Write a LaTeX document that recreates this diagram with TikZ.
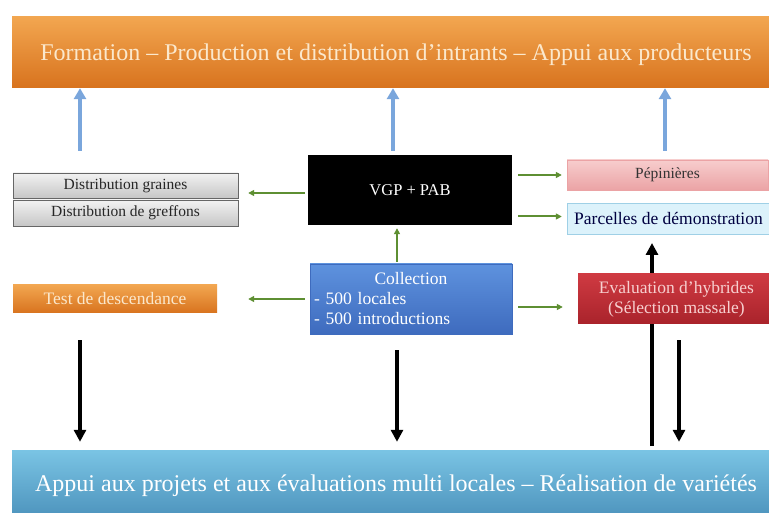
\documentclass[tikz,border=0pt]{standalone}
\usepackage{fontspec}
\setmainfont{Liberation Serif}
\usetikzlibrary{arrows.meta,calc}

\definecolor{orangetop}{HTML}{F2A650}
\definecolor{orangebot}{HTML}{D8731E}
\definecolor{cream}{HTML}{FBE8CC}
\definecolor{arrowblue}{HTML}{7AA6DC}
\definecolor{arrowgreen}{HTML}{5E8F32}
\definecolor{graytop}{HTML}{F2F2F2}
\definecolor{graybot}{HTML}{C6C6C6}
\definecolor{pinktop}{HTML}{F7CDCD}
\definecolor{pinkbot}{HTML}{EBA3A5}
\definecolor{paleblue}{HTML}{DCF2FB}
\definecolor{paleedge}{HTML}{9FD0E6}
\definecolor{colltop}{HTML}{5E92DE}
\definecolor{collbot}{HTML}{3E6BBE}
\definecolor{redtop}{HTML}{CF3A42}
\definecolor{redbot}{HTML}{A9232B}
\definecolor{pinktext}{HTML}{F7CFCF}
\definecolor{skytop}{HTML}{7AC4E4}
\definecolor{skybot}{HTML}{4A90BA}

\begin{document}
\begin{tikzpicture}[x=1pt,y=-1pt,
    banner/.style={minimum width=768pt, minimum height=71pt, inner sep=0pt,
        font=\fontsize{24}{27}\selectfont},
    box/.style={inner sep=0pt, align=center, font=\fontsize{17.5}{20}\selectfont},
    graybox/.style={box, draw=gray!80!black, top color=graytop, bottom color=graybot,
        minimum width=225pt, text=black!85, font=\fontsize{15.5}{17}\selectfont},
    uparrow/.style={draw=arrowblue, line width=4pt, -{Triangle[width=12pt,length=11pt]}},
    greenarrow/.style={draw=arrowgreen, line width=2pt, -{Triangle[width=6pt,length=6pt]}},
    blackarrow/.style={draw=black, line width=3.5pt, -{Triangle[width=12pt,length=12pt]}}]

    \useasboundingbox[fill=white] (0,0) rectangle (769,513);

    % Free ends of the long arrows
    \coordinate (upfoot) at (652,446);
    \coordinate (dnleft) at (80,340);
    \coordinate (dnmid) at (397,350);
    \coordinate (dnright) at (679,340);
    \coordinate (blueleft) at (80,151);
    \coordinate (bluemid) at (393,151);
    \coordinate (blueright) at (665,151);

    % Top and bottom banners
    \node[banner, top color=orangetop, bottom color=orangebot, text=cream, text depth=-3pt]
        (top) at (396,52.5) {Formation -- Production et distribution d'intrants -- Appui aux producteurs};
    \node[banner, top color=skytop, bottom color=skybot, text=white, minimum height=72pt]
        (bottom) at (396,486) {Appui aux projets et aux évaluations multi locales -- Réalisation de variétés};

    % Left column
    \node[graybox, minimum height=25pt] (graines) at (125.5,185.5) {Distribution graines};
    \node[graybox, minimum height=26pt] (greffons) at (125.5,213) {Distribution de greffons};
    \node[box, top color=orangetop, bottom color=orangebot, text=cream,
        minimum width=204pt, minimum height=28pt] (test) at (115,299) {Test de descendance};

    % Middle column
    \node[box, fill=black, text=white, minimum width=204pt, minimum height=70pt,
        font=\fontsize{16.5}{20}\selectfont] (vgp) at (410,190) {VGP + PAB};
    \node[box, top color=colltop, bottom color=collbot, text=white, draw=collbot,
        minimum width=202pt, minimum height=70pt, text width=194pt, align=left]
        (coll) at (411,299) {\makebox[194pt][c]{Collection}\\- 500 locales\\- 500 introductions};

    % Up arrow behind the evaluation box
    \draw[blackarrow] (upfoot) -- (652,243);

    % Right column
    \node[box, top color=pinktop, bottom color=pinkbot, draw=pinkbot, text=black!80,
        minimum width=201pt, minimum height=30pt, font=\fontsize{15.5}{18}\selectfont]
        (pep) at (667.5,175) {Pépinières};
    \node[box, fill=paleblue, draw=paleedge, minimum width=206pt, minimum height=31pt]
        (parc) at (670,218.5) {};
    \node[inner sep=0pt, anchor=west, text=blue!25!black, font=\fontsize{17.5}{20}\selectfont]
        (parctext) at (574,218.5) {Parcelles de démonstration};
    \node[box, top color=redtop, bottom color=redbot, text=pinktext,
        minimum width=197pt, minimum height=50pt] (eval) at (676.5,299)
        {Evaluation d'hybrides\\(Sélection massale)};

    % Blue arrows up to the top banner
    \foreach \b in {blueleft,bluemid,blueright}
        \draw[uparrow] (\b) -- (\b |- top.south);

    % Green arrows around VGP + PAB and the collection
    \draw[greenarrow] ([xshift=-3pt,yshift=-3pt]vgp.west) -- ([xshift=10pt,yshift=-3pt]vgp.west -| graines.east);
    \draw[greenarrow] ([xshift=6pt]vgp.east |- pep.west) -- ([xshift=-5pt]pep.west);
    \draw[greenarrow] ([xshift=6pt,yshift=2pt]vgp.east |- parc.west) -- ([xshift=-5pt,yshift=2pt]parc.west);
    \draw[greenarrow] ([xshift=-14pt,yshift=2pt]coll.north) -- ([xshift=-13pt,yshift=-3pt]vgp.south);
    \draw[greenarrow] ([xshift=-5pt]coll.west) -- ([xshift=31pt]test.east);
    \draw[greenarrow] ([xshift=6pt,yshift=-8pt]coll.east) -- ([xshift=-15pt,yshift=-8pt]eval.west);

    % Black arrows down to the bottom banner
    \foreach \d in {dnleft,dnmid,dnright}
        \draw[blackarrow] (\d) -- ([yshift=8pt]\d |- bottom.north);

\end{tikzpicture}
\end{document}
